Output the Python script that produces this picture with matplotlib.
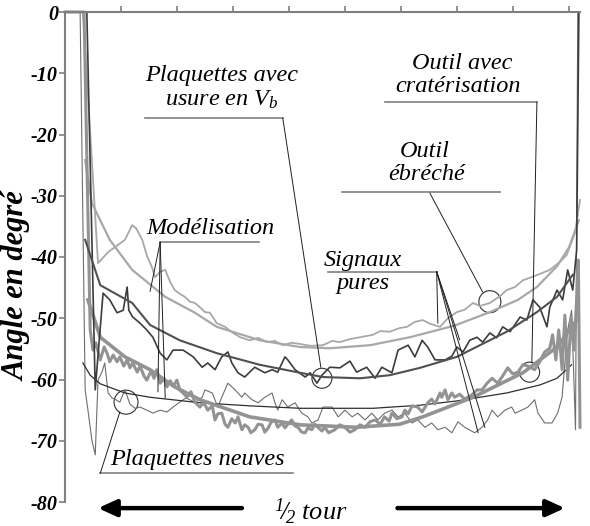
import numpy as np
import matplotlib
matplotlib.use("Agg")
import matplotlib.pyplot as plt
from matplotlib.patches import Ellipse

plt.rcParams['font.family'] = ['Liberation Serif', 'DejaVu Serif']
plt.rcParams['mathtext.fontset'] = 'custom'
plt.rcParams['mathtext.rm'] = 'Liberation Serif:italic'
plt.rcParams['mathtext.it'] = 'Liberation Serif:italic'

# y axis ticks
ytick_vals = [0, -10, -20, -30, -40, -50, -60, -70, -80]
ytick_labels = ["0", "-10", "-20", "-30", "-40", "-50", "-60", "-70", "-80"]

# model curves (smooth)
m1_x = [0.36, 0.48, 0.80, 1.20, 1.79, 2.32, 2.71, 3.48, 4.20, 4.73, 5.45, 6.16, 6.96, 7.59, 8.09, 8.43, 8.79, 9.00, 9.18]
m1_y = [-24.2, -31.2, -37.2, -42.1, -46.5, -49.1, -51.4, -53.6, -54.7, -54.9, -54.4, -53.1, -51.2, -49.0, -47.0, -44.9, -41.5, -38.5, -34.0]

m2_x = [0.36, 0.63, 1.20, 1.52, 2.05, 2.71, 3.48, 4.20, 4.61, 5.27, 5.80, 6.34, 7.00, 7.89, 8.43, 8.79, 9.07]
m2_y = [-37.2, -44.6, -47.5, -51.1, -53.6, -55.7, -57.6, -58.9, -59.6, -59.8, -59.3, -58.1, -56.3, -52.2, -49.0, -46.5, -42.9]

m3_x = [0.41, 0.63, 1.07, 1.52, 1.96, 2.41, 3.30, 4.20, 5.21, 5.98, 6.39, 7.29, 8.18, 8.79, 9.14]
m3_y = [-47.0, -53.1, -56.3, -58.4, -61.2, -63.3, -66.1, -67.4, -67.8, -67.3, -66.1, -62.9, -58.9, -54.7, -50.3]

m4_x = [0.32, 0.45, 0.63, 1.07, 1.52, 2.41, 3.30, 4.20, 5.50, 6.34, 7.00, 7.89, 8.48, 8.79, 9.05]
m4_y = [-57.3, -59.3, -60.7, -62.2, -62.9, -63.8, -64.3, -64.7, -64.7, -64.2, -63.5, -62.2, -60.9, -59.8, -57.6]

# measured signals
s1_x = [0.0, 0.32, 0.59, 0.77, 0.95, 1.07, 1.20, 1.27, 1.38, 1.46, 1.55, 1.61, 1.70, 1.79, 1.88, 1.96,
        2.05, 2.14, 2.23, 2.32, 2.41, 2.50, 2.59, 2.71, 2.86, 3.00, 3.13, 3.30, 3.45, 3.61, 3.75, 3.89,
        4.05, 4.20, 4.38, 4.61, 4.77, 4.91, 5.09, 5.27, 5.50, 5.63, 5.80, 5.98, 6.11, 6.25, 6.39, 6.52,
        6.70, 6.84, 7.00, 7.14, 7.29, 7.41, 7.59, 7.77, 7.89, 8.04, 8.18, 8.39, 8.66, 8.84, 8.96, 9.11, 9.20]
s1_y = [0, 0, -41.0, -39.2, -38.0, -37.2, -34.8, -35.3, -37.2, -39.7, -41.6, -43.3, -42.4, -42.1, -44.1, -45.4,
        -46.0, -46.5, -47.3, -47.5, -48.2, -49.0, -49.1, -50.8, -51.4, -52.4, -53.1, -53.6, -53.2, -53.9, -53.7, -54.4,
        -54.0, -54.2, -54.5, -54.4, -53.7, -53.9, -53.4, -53.1, -52.7, -52.1, -52.2, -51.6, -51.4, -50.6, -50.3, -50.9,
        -51.4, -50.0, -49.0, -48.6, -47.5, -48.0, -47.5, -46.4, -45.4, -44.9, -43.8, -43.1, -42.1, -40.8, -39.7, -36.1, -30.7]

s2_x = [0.0, 0.39, 0.54, 0.68, 0.80, 0.93, 1.04, 1.11, 1.14, 1.21, 1.34, 1.46, 1.57, 1.70, 1.82, 1.93,
        2.11, 2.29, 2.45, 2.55, 2.68, 2.80, 2.91, 2.98, 3.09, 3.21, 3.39, 3.57, 3.70, 3.80, 3.93, 3.98,
        4.11, 4.29, 4.38, 4.50, 4.59, 4.73, 4.91, 5.09, 5.21, 5.39, 5.54, 5.66, 5.84, 5.95, 6.13, 6.25,
        6.38, 6.48, 6.61, 6.79, 6.91, 7.00, 7.11, 7.23, 7.36, 7.46, 7.59, 7.71, 7.82, 7.95, 8.13, 8.25,
        8.36, 8.48, 8.61, 8.66, 8.79, 8.89, 8.98, 9.07, 9.14, 9.18]
s2_y = [0, 0, -61.7, -45.9, -47.0, -49.1, -48.7, -44.9, -48.7, -49.8, -50.8, -51.9, -53.1, -55.7, -56.8, -55.2,
        -55.2, -56.3, -58.0, -57.3, -58.4, -56.3, -55.5, -57.3, -58.9, -59.6, -58.0, -58.9, -58.4, -58.8, -56.3, -56.8,
        -58.4, -59.6, -58.9, -60.6, -59.3, -58.0, -58.1, -57.0, -58.8, -58.0, -59.8, -58.0, -58.9, -55.2, -54.4, -56.3,
        -53.6, -54.7, -56.8, -56.8, -56.2, -54.7, -55.5, -53.6, -53.1, -53.9, -52.4, -53.2, -51.4, -52.2, -49.8, -50.3,
        -47.0, -48.2, -51.4, -48.2, -45.4, -47.0, -42.1, -45.4, -38.9, 0]

s3_x = [0.0, 0.34, 0.45, 0.50, 0.55, 0.63, 0.70, 0.75, 0.80, 0.86, 0.93, 0.98, 1.05, 1.11, 1.16, 1.21,
        1.29, 1.34, 1.41, 1.46, 1.54, 1.59, 1.64, 1.70, 1.77, 1.82, 1.88, 1.93, 2.00, 2.05, 2.13, 2.18,
        2.25, 2.32, 2.41, 2.48, 2.55, 2.63, 2.68, 2.73, 2.80, 2.86, 2.91, 2.98, 3.04, 3.09, 3.16, 3.21,
        3.27, 3.32, 3.39, 3.45, 3.52, 3.57, 3.63, 3.68, 3.75, 3.80, 3.88, 3.93, 3.98, 4.05, 4.11, 4.16,
        4.23, 4.29, 4.34, 4.41, 4.46, 4.52, 4.59, 4.64, 4.71, 4.82, 4.91, 5.00, 5.09, 5.18, 5.27, 5.36,
        5.45, 5.54, 5.63, 5.71, 5.79, 5.84, 5.93, 6.02, 6.07, 6.13, 6.20, 6.30, 6.38, 6.48, 6.55, 6.61,
        6.70, 6.73, 6.79, 6.84, 6.91, 6.96, 7.05, 7.14, 7.27, 7.36, 7.45, 7.54, 7.63, 7.73, 7.82, 7.91,
        8.00, 8.09, 8.18, 8.27, 8.39, 8.48, 8.57, 8.66, 8.71, 8.77, 8.82, 8.88, 8.93, 8.98, 9.04, 9.09,
        9.14, 9.17, 9.20]
s3_y = [0, 0, -51.9, -55.2, -54.0, -56.8, -54.7, -55.7, -57.1, -56.0, -57.1, -56.3, -57.8, -56.8, -58.1, -57.3,
        -58.8, -57.8, -59.4, -60.1, -58.6, -59.8, -58.4, -60.6, -59.8, -61.2, -60.2, -61.1, -60.1, -61.7, -62.4, -62.9,
        -62.0, -63.7, -64.5, -63.8, -65.0, -64.3, -66.6, -65.6, -65.5, -67.3, -67.8, -66.4, -67.1, -66.1, -68.2, -67.4,
        -67.8, -68.7, -68.2, -67.3, -67.4, -68.6, -67.9, -67.0, -66.6, -67.8, -67.1, -67.9, -67.3, -66.6, -67.6, -67.8,
        -68.6, -68.7, -67.9, -68.2, -67.3, -67.8, -68.4, -67.8, -68.7, -68.2, -67.4, -67.8, -68.6, -68.2, -67.4, -67.8,
        -66.9, -66.6, -67.3, -66.1, -66.8, -65.5, -66.4, -66.1, -65.0, -65.6, -64.3, -64.5, -65.3, -63.8, -63.2, -64.0,
        -62.2, -62.9, -61.7, -63.3, -62.2, -62.9, -62.4, -63.2, -62.5, -61.7, -61.7, -60.6, -59.8, -60.6, -59.4, -58.1,
        -59.1, -58.8, -57.6, -57.8, -58.4, -57.1, -55.5, -54.9, -52.7, -56.8, -51.9, -58.4, -49.5, -60.1, -49.8, -55.2,
        -47.0, -40.5, -67.8]

s4_x = [0.0, 0.27, 0.36, 0.41, 0.48, 0.54, 0.59, 0.66, 0.71, 0.77, 0.84, 0.91, 0.98, 1.07, 1.16, 1.25,
        1.34, 1.46, 1.57, 1.70, 1.82, 1.93, 2.05, 2.16, 2.23, 2.32, 2.45, 2.50, 2.63, 2.73, 2.80, 2.91,
        3.04, 3.16, 3.21, 3.34, 3.45, 3.57, 3.70, 3.75, 3.80, 3.88, 3.98, 4.11, 4.23, 4.34, 4.41, 4.52,
        4.61, 4.77, 4.88, 5.00, 5.13, 5.23, 5.36, 5.48, 5.59, 5.71, 5.84, 5.95, 6.07, 6.20, 6.30, 6.43,
        6.55, 6.66, 6.79, 6.91, 7.02, 7.14, 7.32, 7.45, 7.55, 7.63, 7.73, 7.86, 7.98, 8.04, 8.16, 8.27,
        8.39, 8.45, 8.57, 8.70, 8.80, 8.88, 8.93, 8.98, 9.05, 9.12, 9.16]
s4_y = [0, 0, -61.7, -65.0, -69.9, -72.3, -60.1, -58.8, -57.3, -62.2, -63.0, -63.3, -63.7, -61.7, -64.0, -64.7,
        -64.5, -65.0, -65.5, -65.0, -65.3, -64.5, -63.7, -63.0, -63.3, -63.8, -62.9, -61.7, -62.2, -64.5, -62.9, -60.6,
        -61.7, -62.9, -62.2, -63.3, -63.8, -62.9, -62.2, -63.8, -65.0, -63.3, -64.5, -63.8, -65.5, -66.1, -67.1, -66.6,
        -64.5, -64.5, -66.1, -65.0, -66.1, -65.5, -66.6, -65.5, -66.6, -65.5, -65.0, -66.1, -65.5, -67.1, -66.6, -67.8,
        -67.1, -68.2, -67.8, -68.7, -66.9, -67.8, -68.7, -67.8, -66.6, -65.0, -66.1, -65.0, -64.5, -65.5, -65.0, -64.5,
        -63.3, -65.5, -67.1, -67.1, -65.5, -62.9, -57.3, -51.9, -48.7, -68.2, 0]

fig = plt.figure(figsize=(5.9, 5.26), dpi=100)
ax = fig.add_axes([65 / 590, 1 - 502 / 526, 515 / 590, 490 / 526])

light = '#a8a8a8'
mid = '#939393'
dark = '#3c3c3c'

ax.plot(s4_x, s4_y, color='#6e6e6e', lw=0.8, clip_on=False)
ax.plot(m4_x, m4_y, color='#2e2e2e', lw=0.9)
ax.plot(s1_x, s1_y, color=light, lw=1.3, clip_on=False)
ax.plot(m1_x, m1_y, color=light, lw=1.6)
ax.plot(s3_x, s3_y, color=mid, lw=2.2, clip_on=False)
ax.plot(m3_x, m3_y, color=mid, lw=2.6)
ax.plot(s2_x, s2_y, color=dark, lw=1.2, clip_on=False)
ax.plot(m2_x, m2_y, color='#505050', lw=1.5)

ax.set_xlim(0, 9.2)
ax.set_ylim(-80, 0)
for s in ['right', 'bottom']:
    ax.spines[s].set_visible(False)
for s in ['left', 'top']:
    ax.spines[s].set_color('#808080')
    ax.spines[s].set_linewidth(1.5)
ax.xaxis.tick_top()
ax.set_xticks(range(1, 10))
ax.set_xticklabels([])
ax.tick_params(axis='x', direction='out', length=4, color='#808080', width=1.2)
ax.set_yticks(ytick_vals)
ax.set_yticklabels(ytick_labels, fontsize=14.5, fontstyle='italic', fontweight='bold')
ax.tick_params(axis='y', direction='out', length=4, color='#808080', width=1.2, pad=1)
ax.set_ylabel("Angle en degré", fontsize=22, fontstyle='italic', fontweight='bold')
ax.yaxis.set_label_coords(-0.064, 0.44)

tkw = dict(fontsize=17.5, fontstyle='italic', ha='center', va='center', clip_on=False)
lkw = dict(color='#808080', lw=1.2, clip_on=False)
ekw = dict(color='#202020', lw=0.7, clip_on=False)

# Plaquettes avec usure en Vb
ax.text(2.80, -10.4, "Plaquettes avec", **tkw)
ax.text(2.80, -14.4, r"usure en $V_b$", **tkw)
ax.plot([1.43, 3.89], [-17.3, -17.3], **lkw)
ax.plot([3.89, 4.57], [-17.3, -58.0], **ekw)

# Modelisation
ax.text(2.59, -35.3, "Modélisation", **tkw)
ax.plot([1.70, 3.46], [-37.6, -37.6], **lkw)
for ex, ey in [(1.52, -45.6), (1.66, -62.0), (1.79, -63.0)]:
    ax.plot([1.70, ex], [-37.6, ey], **ekw)

# Outil avec craterisation
ax.text(7.09, -8.4, "Outil avec", **tkw)
ax.text(7.02, -12.2, "cratérisation", **tkw)
ax.plot([5.71, 8.43], [-14.7, -14.7], **lkw)
ax.plot([8.43, 8.34], [-14.7, -57.1], **ekw)

# Outil ebreche
ax.text(6.43, -22.7, "Outil", **tkw)
ax.text(6.46, -26.5, "ébréché", **tkw)
ax.plot([4.95, 7.77], [-29.4, -29.4], **lkw)
ax.plot([6.52, 7.46], [-29.6, -45.7], **ekw)

# Signaux pures
ax.text(5.32, -40.6, "Signaux", **tkw)
ax.text(5.32, -44.4, "pures", **tkw)
ax.plot([4.70, 6.64], [-42.4, -42.4], **lkw)
for ex, ey in [(6.66, -50.8), (7.05, -53.5), (7.38, -68.7), (7.50, -67.8)]:
    ax.plot([6.64, ex], [-42.4, ey], **ekw)

# Plaquettes neuves
ax.text(2.36, -73.1, "Plaquettes neuves", **tkw)
ax.plot([0.63, 4.07], [-75.3, -75.3], **lkw)
ax.plot([0.63, 0.98], [-75.3, -65.3], **ekw)

# circles
for cx, cy, r in [(4.59, -59.8, 10), (8.30, -58.8, 10), (7.59, -47.3, 11), (1.09, -63.7, 12)]:
    ax.add_patch(Ellipse((cx, cy), 2 * r / 56, 2 * r / 6.125, fill=False,
                         edgecolor='#303030', lw=0.8, clip_on=False))

# half-turn arrows
akw = dict(arrowstyle='-|>,head_length=1.1,head_width=0.5', color='black', lw=3.2)
ax.annotate("", xy=(0.54, -81.0), xytext=(3.21, -81.0), arrowprops=akw, annotation_clip=False)
ax.annotate("", xy=(8.98, -81.0), xytext=(5.89, -81.0), arrowprops=akw, annotation_clip=False)
ax.text(4.40, -81.6, r"$^{1}\!/\!_{2}$ tour", fontsize=19, fontstyle='italic',
        ha='center', va='center', clip_on=False)

fig.savefig("out.png", dpi=100)
